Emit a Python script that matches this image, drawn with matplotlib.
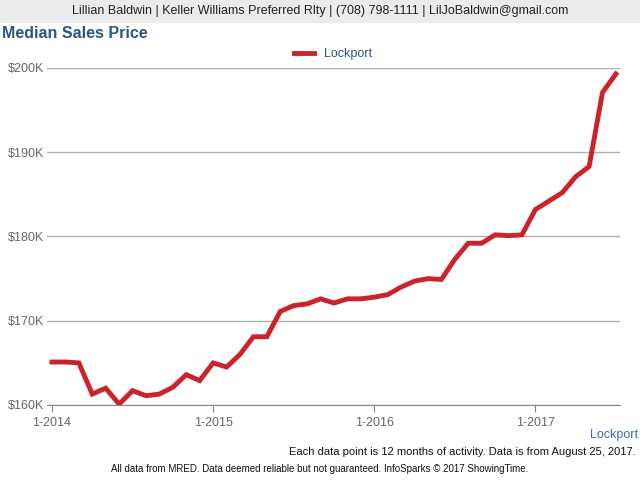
import matplotlib
matplotlib.use("Agg")
import matplotlib.pyplot as plt
import numpy as np
plt.rcParams["font.family"] = "Liberation Sans"

months = np.arange(43)  # Jan 2014 .. Jul 2017
values = [165.1, 165.1, 165.0, 161.3, 162.0, 160.1, 161.7, 161.1, 161.3, 162.1, 163.6, 162.9,
          165.0, 164.5, 166.0, 168.1, 168.1, 171.1, 171.8, 172.0, 172.6, 172.1, 172.6, 172.6,
          172.8, 173.1, 174.0, 174.7, 175.0, 174.9, 177.3, 179.2, 179.2, 180.2, 180.1, 180.2,
          183.2, 184.2, 185.2, 187.1, 188.3, 197.1, 199.3]
xtick_pos = [0, 12, 24, 36]
xtick_labels = ["1-2014", "1-2015", "1-2016", "1-2017"]
ytick_vals = [160, 170, 180, 190, 200]
ytick_labels = ["$160K", "$170K", "$180K", "$190K", "$200K"]

fig = plt.figure(figsize=(6.4, 4.8), dpi=100)
fig.patches.append(plt.Rectangle((0, 1 - 22/480), 1, 22/480, transform=fig.transFigure,
                                 color="#ebebeb", zorder=0))
fig.text(0.5, 1 - 11/480, "Lillian Baldwin | Keller Williams Preferred Rlty | (708) 798-1111 | LilJoBaldwin@gmail.com",
         ha="center", va="center", fontsize=9, color="#222222")
fig.text(2/640, 1 - 34/480, "Median Sales Price", ha="left", va="center", fontsize=11.5,
         fontweight="bold", color="#2f5384")

ax = fig.add_axes([47/640, 1 - 405/480, (620-47)/640, (405-68)/480])
ax.plot(months, values, color="#cc2229", lw=3.5, solid_joinstyle="miter", label="Lockport")
ax.set_xlim(-0.37, 42.3)
ax.set_ylim(160, 200)
ax.set_yticks(ytick_vals)
ax.set_yticklabels(ytick_labels)
ax.set_xticks(xtick_pos)
ax.set_xticklabels(xtick_labels)
ax.grid(axis="y", color="#b0b0b0", lw=1)
ax.set_axisbelow(True)
for s in ["top", "right", "left"]:
    ax.spines[s].set_visible(False)
ax.spines["bottom"].set_color("#888888")
ax.tick_params(axis="y", length=0, labelsize=9, labelcolor="#666666", pad=2)
ax.tick_params(axis="x", length=5, color="#888888", labelsize=9, labelcolor="#666666")
ax.legend(loc="lower center", bbox_to_anchor=(0.5, 1.0), frameon=False, fontsize=9,
          handlelength=1.6, labelcolor="#2f5384", borderaxespad=0.2)

fig.text(638/640, 1 - 435/480, "Lockport", ha="right", va="center", fontsize=9, color="#3d6da8")
fig.text(636/640, 1 - 452/480, "Each data point is 12 months of activity. Data is from August 25, 2017.",
         ha="right", va="center", fontsize=8, color="#111111")
fig.text(0.5, 1 - 469/480, "All data from MRED. Data deemed reliable but not guaranteed. InfoSparks \u00a9 2017 ShowingTime.",
         ha="center", va="center", fontsize=7, color="#111111")
fig.savefig("out.png", dpi=100)
